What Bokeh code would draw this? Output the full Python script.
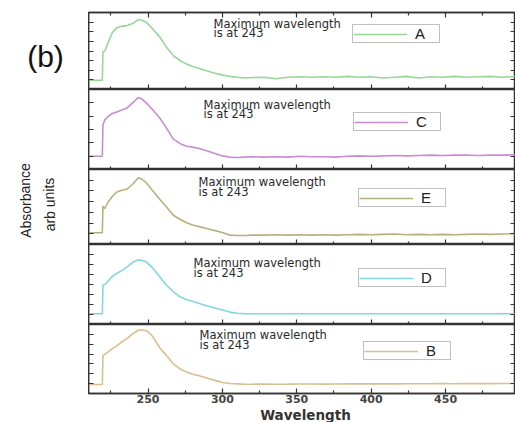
from bokeh.plotting import figure
from bokeh.models import (Range1d, FixedTicker, LinearAxis, Label, Legend, LegendItem,
                          CustomLabelingPolicy)
from bokeh.layouts import row, column
from bokeh.embed import file_html
from bokeh.resources import INLINE

# ---------------- data ----------------
wavelength = [210, 219.3, 219.7, 221, 223, 226, 229, 232, 236, 240, 243.5, 246, 249, 253, 258,
              262, 267, 272, 276, 280, 285, 290, 295, 300, 305, 310, 315, 320, 328, 336, 344,
              352, 360, 368, 376, 384, 392, 400, 408, 416, 424, 432, 440, 448, 456, 464, 472,
              480, 488, 497]

absorb_A = [0.12, 0.12, 0.49, 0.50, 0.60, 0.74, 0.80, 0.82, 0.83, 0.86, 0.91, 0.90, 0.87, 0.79, 0.68,
            0.56, 0.44, 0.37, 0.33, 0.30, 0.27, 0.24, 0.21, 0.19, 0.17, 0.16, 0.15, 0.155, 0.16, 0.14, 0.16,
            0.165, 0.16, 0.165, 0.16, 0.17, 0.16, 0.165, 0.15, 0.16, 0.17, 0.15, 0.165, 0.16, 0.17, 0.16, 0.165,
            0.17, 0.16, 0.17]

absorb_C = [0.165, 0.165, 0.56, 0.62, 0.66, 0.70, 0.72, 0.74, 0.77, 0.84, 0.90, 0.88, 0.83, 0.75, 0.64,
            0.53, 0.38, 0.32, 0.29, 0.28, 0.26, 0.23, 0.20, 0.17, 0.155, 0.15, 0.155, 0.16, 0.155, 0.16, 0.155,
            0.165, 0.16, 0.16, 0.155, 0.165, 0.17, 0.165, 0.17, 0.175, 0.17, 0.175, 0.18, 0.175, 0.18, 0.18, 0.175,
            0.18, 0.18, 0.185]

absorb_E = [0.157, 0.157, 0.51, 0.48, 0.56, 0.64, 0.70, 0.72, 0.74, 0.81, 0.89, 0.87, 0.82, 0.72, 0.60,
            0.51, 0.39, 0.33, 0.29, 0.26, 0.235, 0.21, 0.185, 0.16, 0.125, 0.12, 0.12, 0.125, 0.125, 0.13, 0.125,
            0.13, 0.125, 0.13, 0.125, 0.13, 0.135, 0.13, 0.135, 0.14, 0.13, 0.135, 0.13, 0.135, 0.13, 0.135, 0.14,
            0.135, 0.14, 0.145]

absorb_D = [0.134, 0.134, 0.49, 0.50, 0.54, 0.60, 0.64, 0.67, 0.72, 0.78, 0.81, 0.80, 0.78, 0.71, 0.595,
            0.50, 0.41, 0.34, 0.31, 0.29, 0.26, 0.23, 0.205, 0.18, 0.155, 0.14, 0.135, 0.134, 0.134, 0.135, 0.134,
            0.134, 0.135, 0.134, 0.134, 0.135, 0.134, 0.134, 0.135, 0.134, 0.134, 0.135, 0.134, 0.134, 0.135, 0.134, 0.134,
            0.135, 0.134, 0.135]

absorb_B = [0.13, 0.13, 0.55, 0.57, 0.60, 0.65, 0.69, 0.74, 0.80, 0.87, 0.92, 0.92, 0.91, 0.83, 0.66,
            0.56, 0.43, 0.35, 0.31, 0.28, 0.255, 0.22, 0.19, 0.16, 0.145, 0.14, 0.135, 0.135, 0.137, 0.135, 0.136,
            0.138, 0.137, 0.136, 0.138, 0.14, 0.139, 0.14, 0.141, 0.14, 0.142, 0.141, 0.142, 0.143, 0.142, 0.143, 0.144,
            0.143, 0.144, 0.145]

series_names = ["A", "C", "E", "D", "B"]
series_values = [absorb_A, absorb_C, absorb_E, absorb_D, absorb_B]
series_colors = ["#98d698", "#c98bd2", "#b7b07c", "#82d6de", "#d9bf8e"]

x_major_ticks = [250, 300, 350, 400, 450]
x_minor_ticks = [225, 275, 325, 375, 425, 475]
x_tick_labels = ["250", "300", "350", "400", "450"]

y_ticks_per_panel = [
    [0.125, 0.25, 0.375, 0.5, 0.625, 0.75, 0.875],
    [0.167, 0.333, 0.5, 0.667, 0.833],
    [0.143, 0.286, 0.429, 0.571, 0.714, 0.857],
    [0.125, 0.25, 0.375, 0.5, 0.625, 0.75, 0.875],
    [0.143, 0.286, 0.429, 0.571, 0.714, 0.857],
]

note_line1 = "Maximum wavelength"
note_line2 = "is at 243"
x_title = "Wavelength"
y_title1 = "Absorbance"
y_title2 = "arb units"
panel_tag = "(b)"

# ---------------- layout (pixels) ----------------
LEFT_W = 88
FRAME_W = 427
frame_heights = [77, 80, 75, 80, 69]
top_borders = [12, 0, 0, 0, 0]
bottom_borders = [0, 0, 0, 0, 13]
TITLE_H = 16
note_pos = [(125, 66, 56.7), (115, 65, 56), (110, 62.7, 52.7), (105, 62, 52), (111, 59, 49)]
legend_pos = [(264, 46), (265, 38), (270, 37), (270, 37), (275, 33)]

AX = "#333333"
hide_labels = CustomLabelingPolicy(code="return []")


def style_axis(ax, show_labels=False):
    ax.axis_line_color = AX
    ax.axis_line_width = 1.5
    ax.major_tick_in = 5
    ax.major_tick_out = 0
    ax.minor_tick_in = 3
    ax.minor_tick_out = 0
    ax.major_tick_line_color = AX
    ax.minor_tick_line_color = AX
    ax.major_tick_line_width = 1.2
    ax.minor_tick_line_width = 1.2
    if not show_labels:
        ax.major_label_text_font_size = "0px"
        ax.major_label_standoff = 0
        ax.major_label_policy = hide_labels
    ax.axis_label = None


panels = []
for i in range(5):
    p = figure(width=FRAME_W, height=frame_heights[i] + top_borders[i] + bottom_borders[i],
               x_range=Range1d(210, 497), y_range=Range1d(0, 1),
               x_axis_type=None, y_axis_type=None,
               output_backend="svg", toolbar_location=None,
               min_border_left=0, min_border_right=0,
               min_border_top=top_borders[i], min_border_bottom=bottom_borders[i])
    p.outline_line_color = AX
    p.outline_line_width = 1.5
    p.background_fill_color = "white"
    p.border_fill_color = "white"

    r = p.line(wavelength, series_values[i], line_color=series_colors[i], line_width=1.6)

    xt = FixedTicker(ticks=x_major_ticks, minor_ticks=x_minor_ticks)
    below = LinearAxis(ticker=xt)
    style_axis(below, show_labels=(i == 4))
    if i == 4:
        below.major_label_overrides = {t: s for t, s in zip(x_major_ticks, x_tick_labels)}
        below.major_label_text_font = "DejaVu Sans"
        below.major_label_text_font_style = "bold"
        below.major_label_text_font_size = "11px"
        below.major_label_text_color = "#444444"
        below.major_label_standoff = 1
    p.add_layout(below, "below")
    if i == 0:
        above = LinearAxis(ticker=FixedTicker(ticks=x_major_ticks, minor_ticks=x_minor_ticks))
        style_axis(above)
        p.add_layout(above, "above")

    yt = y_ticks_per_panel[i]
    left = LinearAxis(ticker=FixedTicker(ticks=yt, minor_ticks=[]))
    style_axis(left)
    p.add_layout(left, "left")
    right = LinearAxis(ticker=FixedTicker(ticks=yt, minor_ticks=[]))
    style_axis(right)
    p.add_layout(right, "right")

    nx, ny1, ny2 = note_pos[i]
    for txt, ny in ((note_line1, ny1), (note_line2, ny2)):
        p.add_layout(Label(x=nx, y=ny, x_units="screen", y_units="screen", text=txt,
                           text_font="DejaVu Sans", text_font_size="11.5px",
                           text_color="#2a2a2a", text_baseline="middle", text_align="left"))

    leg = Legend(items=[LegendItem(label=series_names[i], renderers=[r])],
                 location=legend_pos[i], orientation="vertical",
                 padding=0, spacing=0, margin=0,
                 glyph_width=54, glyph_height=12, label_height=12, label_width=24,
                 label_standoff=8, label_text_font="Liberation Sans", label_text_font_size="15px",
                 label_text_color="#222222",
                 border_line_color="#808080", border_line_width=1.5,
                 background_fill_color="white", background_fill_alpha=1.0)
    p.add_layout(leg)
    panels.append(p)

# strip under the panels with the x title
xt_fig = figure(width=FRAME_W, height=TITLE_H, x_range=Range1d(0, FRAME_W), y_range=Range1d(0, TITLE_H),
                x_axis_type=None, y_axis_type=None, output_backend="svg", toolbar_location=None,
                min_border=0)
xt_fig.outline_line_color = None
xt_fig.add_layout(Label(x=217, y=TITLE_H / 2, text=x_title, text_font="DejaVu Sans", text_font_style="bold",
                        text_font_size="13.5px", text_color="#333333", text_align="center",
                        text_baseline="middle"))

# left strip with the panel tag and y title
total_h = sum(frame_heights) + sum(top_borders) + sum(bottom_borders) + TITLE_H
lf = figure(width=LEFT_W, height=total_h, x_range=Range1d(0, LEFT_W), y_range=Range1d(0, total_h),
            x_axis_type=None, y_axis_type=None, output_backend="svg", toolbar_location=None,
            min_border=0)
lf.outline_line_color = None
lf.add_layout(Label(x=45, y=total_h - 56, text=panel_tag, text_font="Liberation Sans", text_font_size="30px",
                    text_color="#111111", text_align="center", text_baseline="middle"))
lf.add_layout(Label(x=25, y=total_h - 200, text=y_title1, angle=1.5708, text_font="Liberation Sans",
                    text_font_size="14px", text_color="#222222", text_align="center", text_baseline="middle"))
lf.add_layout(Label(x=49, y=total_h - 204, text=y_title2, angle=1.5708, text_font="Liberation Sans",
                    text_font_size="14px", text_color="#222222", text_align="center", text_baseline="middle"))

layout = row(lf, column(*panels, xt_fig, spacing=0), spacing=0)

open("out.html", "w").write(file_html(layout, INLINE))
